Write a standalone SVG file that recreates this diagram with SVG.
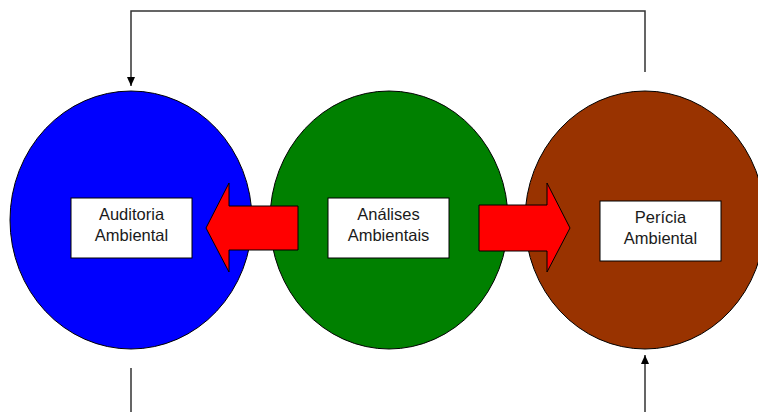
<svg xmlns="http://www.w3.org/2000/svg" width="758" height="412" viewBox="0 0 758 412">
  <defs>
    <marker id="ah" markerWidth="10" markerHeight="10" refX="9" refY="5" orient="auto" markerUnits="userSpaceOnUse">
      <path d="M0,1 L9,5 L0,9 Z" fill="#000"/>
    </marker>
    <style>
      .node { stroke: #000; stroke-width: 1; }
      .box { fill: #fff; stroke: #000; stroke-width: 1; }
      .lbl { font-family: "Liberation Sans", Arial, sans-serif; font-size: 16.5px; fill: #1a1a1a; text-anchor: middle; }
      .big { fill: #ff0000; stroke: #000; stroke-width: 1; }
      .conn { fill: none; stroke: #333; stroke-width: 1.5; }
    </style>
  </defs>
  <rect width="758" height="412" fill="#fff"/>

  <g id="auditoria">
    <ellipse class="node" cx="131" cy="220" rx="121" ry="129" fill="#0000ff"/>
    <rect class="box" x="71" y="198" width="121" height="60"/>
    <text class="lbl" x="131.5" y="220">Auditoria</text>
    <text class="lbl" x="131.5" y="241">Ambiental</text>
  </g>

  <g id="analises">
    <ellipse class="node" cx="389" cy="220" rx="119" ry="129" fill="#008000"/>
    <rect class="box" x="328" y="198" width="121" height="60"/>
    <text class="lbl" x="388.5" y="220">Análises</text>
    <text class="lbl" x="388.5" y="241">Ambientais</text>
  </g>

  <g id="pericia">
    <ellipse class="node" cx="645" cy="220" rx="120" ry="129" fill="#993300"/>
    <rect class="box" x="600" y="201" width="121" height="60"/>
    <text class="lbl" x="660.5" y="223">Perícia</text>
    <text class="lbl" x="660.5" y="244">Ambiental</text>
  </g>

  <g id="connectors">
    <polygon class="big" points="298,206 229,206 229,183 206,228 229,272 229,250 298,250"/>
    <polygon class="big" points="479,205 547,205 547,183 570,228 547,272 547,251 479,251"/>
    <polyline class="conn" points="645,72 645,11 131,11 131,86" marker-end="url(#ah)"/>
    <polyline class="conn" points="131,368 131,420 645,420 645,355" marker-end="url(#ah)"/>
  </g>
</svg>
